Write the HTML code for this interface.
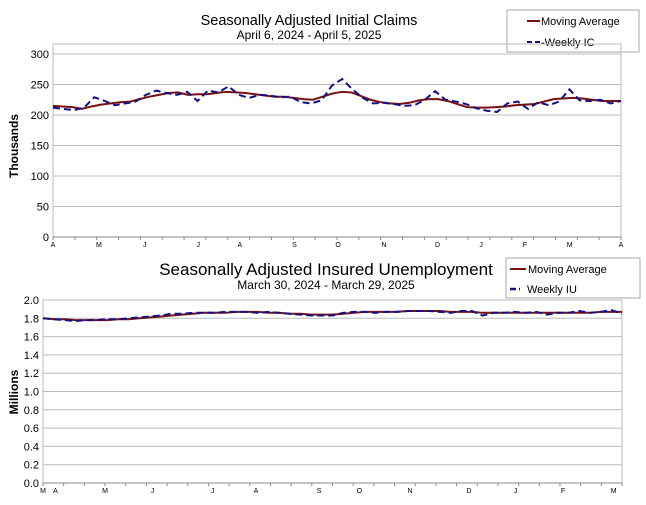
<!DOCTYPE html>
<html><head><meta charset="utf-8"><style>
body{margin:0;background:#fff;width:646px;height:505px;overflow:hidden;font-family:"Liberation Sans",Arial,sans-serif}
svg{display:block}
</style></head><body>
<svg width="646" height="505" id="svg" font-family="Liberation Sans, Arial, sans-serif">
<text x="309" y="25" text-anchor="middle" font-size="14.5">Seasonally Adjusted Initial Claims</text>
<text x="309" y="39" text-anchor="middle" font-size="12">April 6, 2024 - April 5, 2025</text>
<text x="326" y="275" text-anchor="middle" font-size="17">Seasonally Adjusted Insured Unemployment</text>
<text x="326" y="289" text-anchor="middle" font-size="12">March 30, 2024 - March 29, 2025</text>
<text transform="translate(18,146) rotate(-90)" text-anchor="middle" font-size="12" font-weight="bold">Thousands</text>
<text transform="translate(18,392) rotate(-90)" text-anchor="middle" font-size="12" font-weight="bold">Millions</text>
<g>
<rect x="507" y="10" width="132" height="42" fill="#fff" stroke="#aaa"/>
<line x1="527" y1="21" x2="540" y2="21" stroke="#7a1010" stroke-width="2"/>
<text x="541" y="25" font-size="11">Moving Average</text>
<line x1="527" y1="42" x2="540" y2="42" stroke="#10108a" stroke-width="2" stroke-dasharray="5,3"/>
<text x="541" y="46" font-size="11">-Weekly IC</text>
</g>
<g>
<rect x="506" y="258" width="134" height="40" fill="#fff" stroke="#aaa"/>
<line x1="510" y1="269" x2="526" y2="269" stroke="#7a1010" stroke-width="2"/>
<text x="528" y="273" font-size="11">Moving Average</text>
<line x1="510" y1="289" x2="520" y2="289" stroke="#10108a" stroke-width="2.5" stroke-dasharray="6,3"/>
<text x="527" y="293" font-size="11">Weekly IU</text>
</g>
<g id="c1"></g><g id="c2"></g>
</svg>
<script>
const icWeekly=[212,210,208,212,229,223,216,219,222,233,240,236,233,238,223,240,237,247,233,228,233,232,229,230,221,219,224,248,259,242,228,219,220,218,215,216,225,239,225,222,218,211,207,205,219,222,210,221,216,222,242,224,223,225,219,223];
const icMA=[215,214,213,210,214,217,219,221,222,226,230,233,236,237,233,234,234,236,238,237,236,234,232,230,230,228,226,225,230,235,238,237,231,225,221,219,218,220,224,226,226,223,218,213,212,212,213,214,216,217,218,222,226,227,228,227,225,223,223,223];
const icTicks=[0,50,100,150,200,250,300];
const icMonths=["A","M","J","J","A","S","O","N","D","J","F","M","A"];
const icMonthPos=[0,4.2,8.4,13.3,17.1,22.1,26.1,30.3,35.2,39.2,43.2,47.3,52];
const iuWeekly=[1.80,1.79,1.78,1.77,1.78,1.78,1.79,1.79,1.80,1.81,1.82,1.83,1.85,1.85,1.86,1.86,1.86,1.87,1.87,1.87,1.86,1.87,1.86,1.85,1.84,1.83,1.83,1.83,1.86,1.87,1.87,1.86,1.87,1.87,1.88,1.88,1.88,1.87,1.86,1.88,1.88,1.83,1.86,1.86,1.87,1.86,1.87,1.84,1.86,1.86,1.88,1.86,1.87,1.89,1.85];
const iuMA=[1.80,1.79,1.79,1.78,1.78,1.78,1.78,1.79,1.79,1.80,1.81,1.82,1.83,1.84,1.85,1.86,1.86,1.86,1.87,1.87,1.87,1.86,1.86,1.85,1.85,1.84,1.84,1.84,1.85,1.86,1.87,1.87,1.87,1.87,1.88,1.88,1.88,1.88,1.87,1.87,1.87,1.86,1.86,1.86,1.86,1.86,1.86,1.86,1.86,1.86,1.86,1.86,1.87,1.87,1.87];
const iuTicks=[0,0.2,0.4,0.6,0.8,1.0,1.2,1.4,1.6,1.8,2.0];
const iuMonths=["M","A","M","J","J","A","S","O","N","D","J","F","M"];
const iuMonthPos=[0,1.2,6,10.6,16.4,20.6,26.7,30.6,35.5,41.2,45.7,50.3,55.2];
const NS="http://www.w3.org/2000/svg";
function mk(p,t,a){const e=document.createElementNS(NS,t);for(const k in a)e.setAttribute(k,a[k]);p.appendChild(e);return e;}
function chart(g,cfg){
  const {x0,x1,y0,y1,frameTop,vmax,ticks,months,mpos,weekly,ma,fmt,nWeeks,pfx}=cfg;
  const ys=v=>y1-(v/vmax)*(y1-y0);
  const xs=i=>x0+i/(nWeeks)*(x1-x0);
  const fr=mk(g,'rect',{x:x0,y:frameTop,width:x1-x0,height:y1-frameTop,fill:'none',stroke:'#bbb'});
  
  
  ticks.forEach(t=>{
    const y=ys(t);
    const l=mk(g,'line',{x1:x0,x2:x1,y1:y,y2:y,stroke:t===0?'#888':'#bbb'});
    
    
    const tx=mk(g,'text',{x:x0-4,y:y+4,'text-anchor':'end','font-size':11});
    tx.textContent=fmt(t);
    
    
  });
  for(let i=0;i<=nWeeks;i+=2){mk(g,'line',{x1:xs(i),x2:xs(i),y1:y1,y2:y1+3,stroke:'#888'});}
  months.forEach((m,i)=>{
    const tx=mk(g,'text',{x:xs(mpos[i]),y:y1+10,'text-anchor':'middle','font-size':7});
    tx.textContent=m;
    
    
  });
  const pts=a=>a.map((v,i)=>xs(i*nWeeks/(a.length-1))+','+ys(v)).join(' ');
  const l1=mk(g,'polyline',{points:pts(ma),fill:'none',stroke:'#7a1010','stroke-width':2});
  
  
  const l2=mk(g,'polyline',{points:pts(weekly),fill:'none',stroke:'#10108a','stroke-width':2,'stroke-dasharray':'7,4'});
  
  
}
chart(document.getElementById('c1'),{x0:53,x1:621,y0:54,y1:237,frameTop:44,vmax:300,ticks:icTicks,months:icMonths,mpos:icMonthPos,weekly:icWeekly,ma:icMA,fmt:t=>String(t),nWeeks:52,pfx:'chart1'});
chart(document.getElementById('c2'),{x0:43,x1:622,y0:300,y1:483,frameTop:300,vmax:2,ticks:iuTicks,months:iuMonths,mpos:iuMonthPos,weekly:iuWeekly,ma:iuMA,fmt:t=>t.toFixed(1),nWeeks:56,pfx:'chart2'});
</script>
</body></html>
